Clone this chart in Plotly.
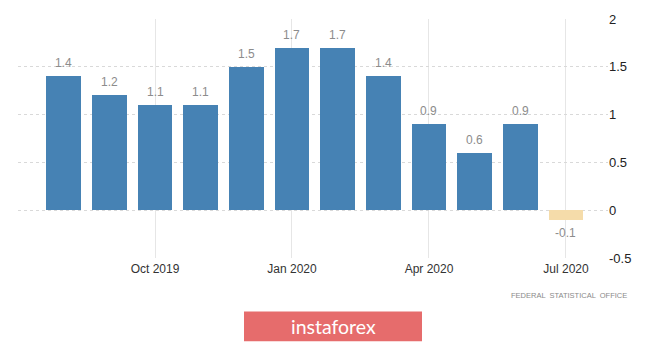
import plotly.graph_objects as go

# Monthly change, Aug 2019 – Jul 2020
months = ["Aug 2019", "Sep 2019", "Oct 2019", "Nov 2019", "Dec 2019", "Jan 2020",
          "Feb 2020", "Mar 2020", "Apr 2020", "May 2020", "Jun 2020", "Jul 2020"]
values = [1.4, 1.2, 1.1, 1.1, 1.5, 1.7, 1.7, 1.4, 0.9, 0.6, 0.9, -0.1]
tick_labels = ["Oct 2019", "Jan 2020", "Apr 2020", "Jul 2020"]
y_ticks = [-0.5, 0, 0.5, 1, 1.5, 2]

W, H = 665, 343
ML, MR, MT, MB = 18, 57, 17, 85

pos = list(range(len(months)))
colors = ["#4682b4" if v >= 0 else "#f5dcaa" for v in values]

fig = go.Figure(go.Bar(
    x=pos, y=values, width=0.755, marker=dict(color=colors, line=dict(width=0)),
    hoverinfo="skip",
))

for i, v in zip(pos, values):
    fig.add_annotation(
        x=i, y=v, text=f"{v:g}", showarrow=False,
        yanchor="bottom" if v >= 0 else "top", yshift=4 if v >= 0 else -4,
        font=dict(family="Liberation Sans Narrow, Arial, sans-serif", size=12, color="#8c8c8c"),
    )

tick_pos = [months.index(m) for m in tick_labels]

pw, ph = W - ML - MR, H - MT - MB


def px(x):
    return (x - ML) / pw


def py(y):
    return (H - MB - y) / ph


# source credit under the plot
fig.add_annotation(
    x=px(569), y=py(296), xref="paper", yref="paper", showarrow=False,
    xanchor="center", yanchor="middle",
    text="FEDERAL  STATISTICAL  OFFICE",
    font=dict(family="Liberation Sans Narrow, Arial, sans-serif", size=7.5, color="#8a8a8a"),
)

# brand banner
fig.add_shape(
    type="rect", xref="paper", yref="paper",
    x0=px(244), x1=px(422), y0=py(342), y1=py(312),
    fillcolor="#e66c6c", line=dict(width=0), layer="above",
)
fig.add_annotation(
    x=px(333), y=py(327), xref="paper", yref="paper", showarrow=False,
    xanchor="center", yanchor="middle",
    text="instaforex",
    font=dict(family="Lato, Open Sans, sans-serif", size=19.5, color="#ffffff"),
)

fig.update_layout(
    width=W, height=H,
    margin=dict(l=ML, r=MR, t=MT, b=MB),
    paper_bgcolor="#ffffff", plot_bgcolor="#ffffff",
    showlegend=False, bargap=0,
    xaxis=dict(
        range=[-1.0, 11.92], tickmode="array", tickvals=tick_pos, ticktext=tick_labels,
        showgrid=True, gridcolor="#e6e6e6", gridwidth=1, zeroline=False,
        showline=False, ticks="", ticklabelstandoff=2,
        tickfont=dict(family="Liberation Sans Narrow, Arial, sans-serif", size=12, color="#333333"),
    ),
    yaxis=dict(
        range=[-0.5, 2], side="right", tickmode="array", tickvals=y_ticks,
        ticktext=[f"{t:g}" for t in y_ticks],
        showgrid=True, gridcolor="#d9d9d9", griddash="dot", gridwidth=1,
        zeroline=False, showline=False, ticks="",
        tickfont=dict(family="Liberation Sans Narrow, Arial, sans-serif", size=13, color="#222222"),
    ),
)

fig.write_html("out.html")
